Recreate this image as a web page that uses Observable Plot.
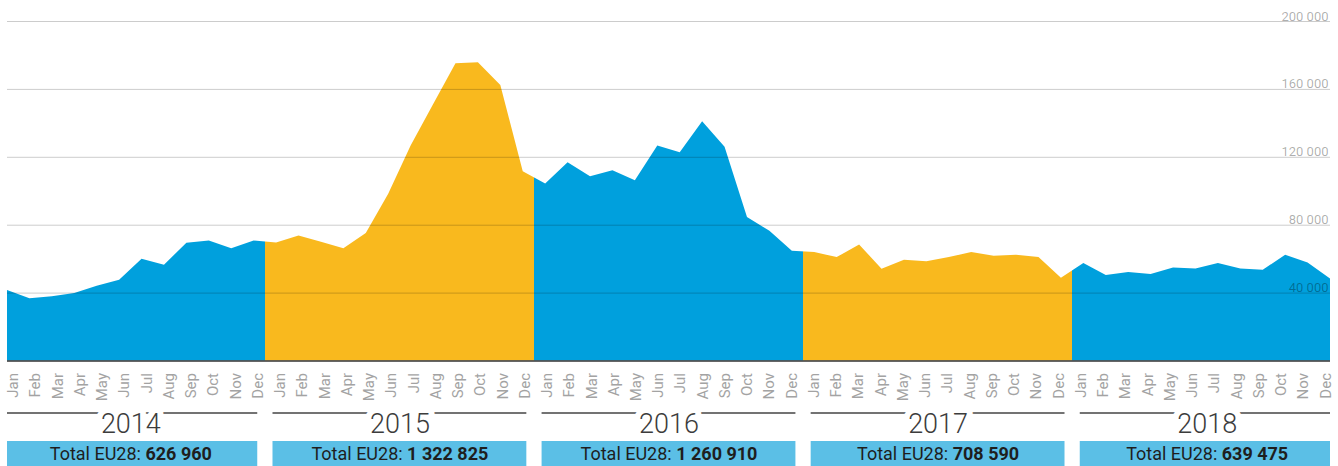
<!DOCTYPE html>
<html>
<head>
<meta charset="utf-8">
<script src="https://cdn.jsdelivr.net/npm/d3@7"></script>
<script src="https://cdn.jsdelivr.net/npm/@observablehq/plot@0.6"></script>
<style>
html, body { margin: 0; padding: 0; background: #fff; }
#chart svg { display: block; }
</style>
</head>
<body>
<div id="chart"></div>
<script>
// ---- data ----
const years = [2014, 2015, 2016, 2017, 2018];
const months = ["Jan", "Feb", "Mar", "Apr", "May", "Jun", "Jul", "Aug", "Sep", "Oct", "Nov", "Dec"];
const values2014 = [41600, 36700, 37900, 39800, 44000, 47500, 59900, 56400, 69400, 70700, 66200, 70700];
const values2015 = [69500, 73700, 69900, 66200, 75100, 98300, 126700, 150900, 175100, 175700, 162300, 111500];
const values2016 = [104200, 116800, 108500, 112100, 106200, 126700, 122700, 141000, 125900, 84500, 76400, 64600];
const values2017 = [63900, 60900, 68400, 54000, 59300, 58500, 60900, 63900, 61700, 62300, 60900, 48700];
const values2018 = [57400, 50300, 52200, 50900, 54800, 54200, 57500, 54200, 53400, 62300, 57700, 48300];
const yearTotals = [626960, 1322825, 1260910, 708590, 639475];
const yTicks = [40000, 80000, 120000, 160000, 200000];
const totalLabel = "Total EU28: ";

// ---- styles ----
const blue = "#00a0dd";
const yellow = "#f9b91e";
const yearColors = [blue, yellow, blue, yellow, blue];
const font = "Roboto, 'Open Sans', sans-serif";
const W = 1338;
const labelSpread = 0.992; // month labels sit on a very slightly tighter pitch than the points

const fmt = d3.formatLocale({thousands: " ", grouping: [3], decimal: ".", currency: ["", ""]}).format(",");

const series = [values2014, values2015, values2016, values2017, values2018];
const monthly = years.flatMap((y, k) => series[k].map((v, m) => ({i: k * 12 + m, year: y, month: months[m], value: v})));
const lastIndex = monthly.length - 1;
const xDomain = [0, lastIndex];
const yearRows = years.map((y, k) => ({year: y, first: k * 12, last: k * 12 + 11, total: yearTotals[k]}));
const pad = 0.16;
const spanStart = d => Math.max(d.first - pad, 0);
const spanEnd = d => Math.min(d.last + pad, lastIndex);

const chart = Plot.plot({
  width: W,
  height: 404,
  marginLeft: 7,
  marginRight: 8,
  marginTop: 21,
  marginBottom: 43.5,
  x: {domain: xDomain, axis: null},
  y: {domain: [0, 200000], axis: null},
  style: {fontFamily: font, background: "white", overflow: "visible"},
  marks: [
    Plot.areaY(monthly, {x: "i", y: "value", fill: blue}),
    Plot.ruleY(yTicks, {stroke: "#000", strokeOpacity: 0.2, strokeWidth: 1}),
    Plot.ruleY([0], {stroke: "#333", strokeWidth: 1.5}),
    Plot.text(yTicks, {
      y: d => d, text: d => fmt(d), frameAnchor: "right", textAnchor: "end", lineAnchor: "bottom",
      dx: -2, dy: -1, fill: "#000", fillOpacity: 0.33, fontSize: 13
    }),
    Plot.text(monthly, {
      x: d => d.i * labelSpread, text: "month", frameAnchor: "bottom", rotate: -90,
      textAnchor: "end", lineAnchor: "top",
      dy: 12, fill: "#a3a3a3", fontSize: 15
    })
  ]
});

// colour the area year by year with a hard-stop gradient built from the x scale
const xs = chart.scale("x");
const grad = d3.select(chart).insert("defs", ":first-child")
  .append("linearGradient")
  .attr("id", "yearFill")
  .attr("gradientUnits", "userSpaceOnUse")
  .attr("x1", 0).attr("x2", W).attr("y1", 0).attr("y2", 0);
yearRows.forEach((d, k) => {
  const a = k === 0 ? 0 : xs.apply(d.first - 0.5);
  const b = k === yearRows.length - 1 ? W : xs.apply(d.last + 0.5);
  grad.append("stop").attr("offset", a / W).attr("stop-color", yearColors[k]);
  grad.append("stop").attr("offset", b / W).attr("stop-color", yearColors[k]);
});
d3.select(chart).selectAll('g[aria-label="area"]').attr("fill", "url(#yearFill)");
d3.select(chart).selectAll('g[aria-label="area"] path').attr("fill", "url(#yearFill)");

const row = Plot.plot({
  width: W,
  height: 62,
  marginLeft: 7,
  marginRight: 8,
  marginTop: 0,
  marginBottom: 0,
  x: {domain: xDomain, axis: null},
  style: {fontFamily: font, background: "white", overflow: "visible"},
  marks: [
    Plot.ruleY(yearRows, {x1: spanStart, x2: spanEnd, y: null, dy: -22.5, stroke: "#444", strokeWidth: 1.5}),
    Plot.text(yearRows, {
      x: d => (d.first + d.last) / 2, text: d => String(d.year), dy: -11.5, lineAnchor: "middle",
      fontSize: 27, fontWeight: 300, fill: "#3c3c3c", stroke: "white", strokeWidth: 12,
      paintOrder: "stroke", strokeLinejoin: "round"
    }),
    Plot.rect(yearRows, {x1: spanStart, x2: spanEnd, insetTop: 37, fill: "#5bbfe6"}),
    Plot.text(yearRows, {
      x: d => (d.first + d.last) / 2, text: d => totalLabel + fmt(d.total),
      frameAnchor: "bottom", lineAnchor: "middle", dy: -12, fontSize: 18, fill: "#1e1e1e"
    })
  ]
});

d3.select(row).selectAll("text").each(function () {
  const t = this.textContent;
  if (t.startsWith(totalLabel)) {
    const num = t.slice(totalLabel.length);
    this.textContent = totalLabel;
    d3.select(this).append("tspan").attr("font-weight", "bold").text(num);
  }
});

const host = document.getElementById("chart");
host.appendChild(chart);
host.appendChild(row);
</script>
</body>
</html>
